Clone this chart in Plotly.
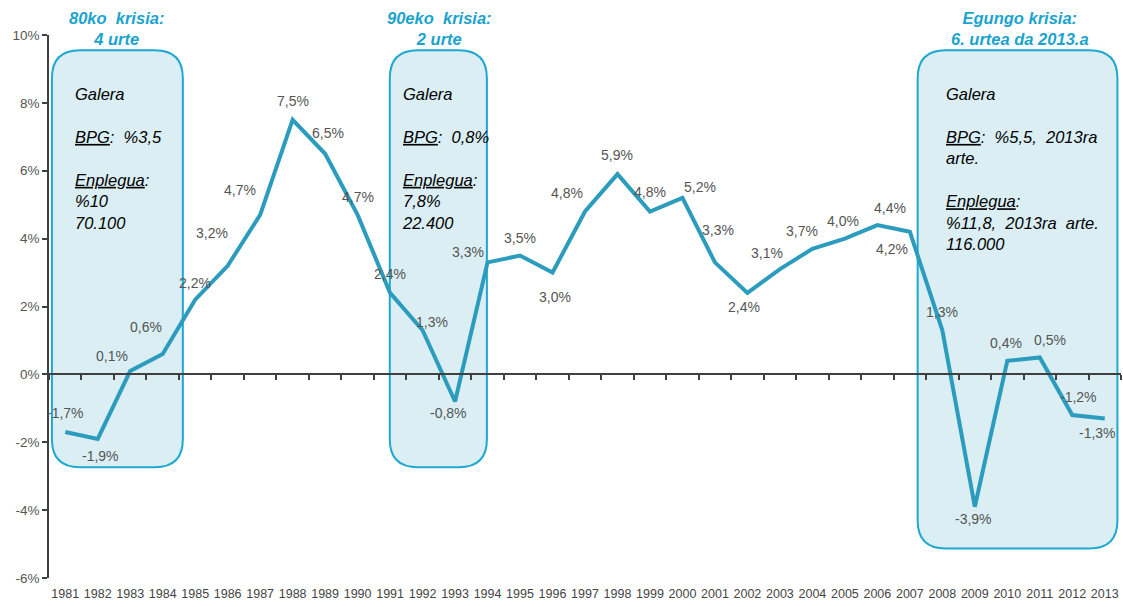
import plotly.graph_objects as go

years = [str(y) for y in range(1981, 2014)]
gdp_growth = [-1.7, -1.9, 0.1, 0.6, 2.2, 3.2, 4.7, 7.5, 6.5, 4.7, 2.4, 1.3, -0.8, 3.3, 3.5, 3.0,
              4.8, 5.9, 4.8, 5.2, 3.3, 2.4, 3.1, 3.7, 4.0, 4.4, 4.2, 1.3, -3.9, 0.4, 0.5, -1.2, -1.3]
y_tick_vals = [-6, -4, -2, 0, 2, 4, 6, 8, 10]
y_tick_text = ["-6%", "-4%", "-2%", "0%", "2%", "4%", "6%", "8%", "10%"]

crisis_titles = ["80ko  krisia:<br>4 urte", "90eko  krisia:<br>2 urte", "Egungo krisia:<br>6. urtea da 2013.a"]
crisis_texts = [
    "Galera<br><br><u>BPG</u>:  %3,5<br><br><u>Enplegua</u>:<br>%10<br>70.100",
    "Galera<br><br><u>BPG</u>:  0,8%<br><br><u>Enplegua</u>:<br>7,8%<br>22.400",
    "Galera<br><br><u>BPG</u>:  %5,5,  2013ra<br>arte.<br><br><u>Enplegua</u>:<br>%11,8,  2013ra  arte.<br>116.000",
]

# label offsets (px) relative to each point: style only
label_dx = [0, 3, -18, -17, 0, -16, -20, 0, 3, 0, 0, 9, -7, -20, 0, 2,
            -18, 0, 0, 18, 3, -3, -13, -10, -2, 13, -18, 0, -1, -1, 10, 6, -7]
label_dy = [19, -17, 15, 27, 17, 33, 25, 19, 21, 18, 19, 8, -11, 10, 18, -24,
            18, 19, 19, 11, 32, -14, 16, 18, 18, 17, -17, 18, -12, 18, 17, 18, -15]

# box geometry (axis units): left, right, top, bottom
boxes = [(-0.41, 3.62, 9.55, -2.74), (9.99, 12.98, 9.55, -2.74), (26.24, 32.39, 9.55, -5.13)]
title_x = [1.59, 11.53, 29.38]
text_x = [0.24, 10.3, 27.04]

LINE = "#2b9cbd"
BOX_EDGE = "#1ea8d2"
BOX_FILL = "#daeef3"
GRAY = "#555555"
AXIS = "#404040"

xs = list(range(len(years)))

fig = go.Figure()
fig.add_trace(go.Scatter(x=[0, 1], y=[None, None], xaxis="x2", yaxis="y", mode="lines",
                         showlegend=False, hoverinfo="skip"))
fig.add_trace(go.Scatter(x=xs, y=gdp_growth, mode="lines",
                         line=dict(color=LINE, width=4), showlegend=False, hoverinfo="skip",
                         cliponaxis=False))

def rounded(x0, x1, y1, y0, r=28):
    rx, ry = r / 32.5, r / 33.94
    return (f"M {x0+rx},{y1} L {x1-rx},{y1} Q {x1},{y1} {x1},{y1-ry} "
            f"L {x1},{y0+ry} Q {x1},{y0} {x1-rx},{y0} L {x0+rx},{y0} "
            f"Q {x0},{y0} {x0},{y0+ry} L {x0},{y1-ry} Q {x0},{y1} {x0+rx},{y1} Z")

for (x0, x1, y1, y0) in boxes:
    fig.add_shape(type="path", path=rounded(x0, x1, y1, y0), xref="x", yref="y",
                  fillcolor=BOX_FILL, line=dict(color=BOX_EDGE, width=2), layer="below")

for t, tx in zip(crisis_titles, title_x):
    fig.add_annotation(x=tx, y=1.052, xref="x", yref="paper", text=t, showarrow=False,
                       xanchor="center", yanchor="top", align="center",
                       font=dict(family="Liberation Sans", size=16.5, color="#1aa3cf",
                                 weight="bold", style="italic"))

for t, tx in zip(crisis_texts, text_x):
    fig.add_annotation(x=tx, y=8.6, xref="x", yref="y", text=t, showarrow=False,
                       xanchor="left", yanchor="top", align="left",
                       font=dict(family="Liberation Sans", size=16.5, color="#000000",
                                 style="italic"))

for i, v in enumerate(gdp_growth):
    fig.add_annotation(x=xs[i], y=v, xref="x", yref="y",
                       text=f"{v:.1f}%".replace(".", ","), showarrow=False,
                       xshift=label_dx[i], yshift=label_dy[i],
                       font=dict(family="Liberation Sans", size=14, color=GRAY))

fig.update_layout(
    width=1123, height=607,
    margin=dict(l=49, r=2, t=35, b=29),
    paper_bgcolor="white", plot_bgcolor="white",
    showlegend=False,
    xaxis=dict(range=[-0.5, 32.5], tickmode="array", tickvals=xs, ticktext=years,
               showline=False, ticks="", showgrid=False, zeroline=False,
               ticklabelstandoff=6,
               tickfont=dict(family="Liberation Sans", size=12.5, color="#444444")),
    xaxis2=dict(range=[-0.5, 32.5], overlaying="x", anchor="free", position=0.375,
                tickmode="array", tickvals=[i - 0.5 for i in range(len(years) + 1)],
                showticklabels=False, ticks="outside", ticklen=5, tickwidth=1.5,
                tickcolor=AXIS, showline=True, linecolor=AXIS, linewidth=1.5,
                showgrid=False, zeroline=False),
    yaxis=dict(range=[-6, 10], tickmode="array", tickvals=y_tick_vals, ticktext=y_tick_text,
               showline=True, linecolor=AXIS, linewidth=1.5, ticks="outside", ticklen=5,
               tickwidth=1.5, tickcolor=AXIS, showgrid=False, zeroline=False,
               tickfont=dict(family="Liberation Sans", size=13.5, color=GRAY)),
)

fig.write_html("out.html", config={"displayModeBar": False},
               post_script="document.body.style.margin='0';document.body.style.overflow='hidden';")
